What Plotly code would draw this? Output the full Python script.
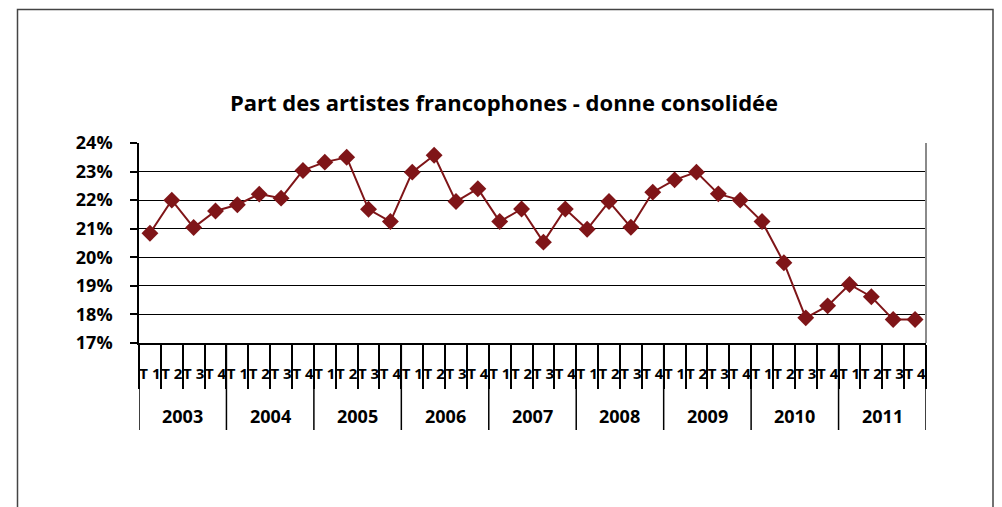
import plotly.graph_objects as go

years = ["2003", "2004", "2005", "2006", "2007", "2008", "2009", "2010", "2011"]
quarters = ["T 1", "T 2", "T 3", "T 4"]
values = [
    20.84, 22.00, 21.04, 21.62,
    21.84, 22.21, 22.07, 23.04,
    23.33, 23.50, 21.68, 21.25,
    22.98, 23.57, 21.95, 22.40,
    21.25, 21.69, 20.53, 21.69,
    20.98, 21.95, 21.05, 22.28,
    22.71, 22.98, 22.22, 22.00,
    21.25, 19.81, 17.88, 18.30,
    19.05, 18.62, 17.82, 17.82,
]
y_ticks = [17, 18, 19, 20, 21, 22, 23, 24]
y_labels = [f"{v}%" for v in y_ticks]
title_text = "Part des artistes francophones - donne consolidée"

n_q = len(quarters)
x_pos = list(range(len(values)))
x_inner = [q for _ in years for q in quarters]

color = "#7F1518"
font_family = "Open Sans, DejaVu Sans, sans-serif"

# page body has an 8px margin: work in figure coordinates
OFF = 8
W, H = 1002 - OFF, 507 - OFF
PL, PR, PT, PB = 139 - OFF, 926 - OFF, 143 - OFF, 343 - OFF
PH = PB - PT

fig = go.Figure()
fig.add_trace(go.Scatter(
    x=x_pos,
    y=values,
    mode="lines+markers",
    line=dict(color=color, width=2),
    marker=dict(symbol="diamond", size=13, color=color),
    showlegend=False,
    cliponaxis=False,
))

shapes = [dict(type="rect", xref="paper", yref="paper",
               x0=(17.5 - OFF - PL) / (PR - PL), x1=(993 - OFF - PL) / (PR - PL),
               y0=-(530 - OFF - PB) / PH, y1=(PB - (9.5 - OFF)) / PH,
               line=dict(color="#444444", width=1.5), layer="below")]
# plot area right border (gray)
shapes.append(dict(type="line", xref="paper", yref="paper", x0=1, x1=1, y0=0, y1=1,
                   line=dict(color="#8a8a8a", width=2)))
# year dividers
for k in range(len(years) + 1):
    xb = k * n_q - 0.5
    shapes.append(dict(type="line", xref="x", yref="paper", x0=xb, x1=xb,
                       y0=0, y1=-(430 - 343) / PH, line=dict(color="black", width=1.5)))

annotations = []
for k, yr in enumerate(years):
    annotations.append(dict(text=yr, xref="x", yref="paper",
                            x=k * n_q + (n_q - 1) / 2, y=-(416 - 343) / PH,
                            xanchor="center", yanchor="middle", showarrow=False,
                            font=dict(family=font_family, size=18, color="black", weight="bold")))

fig.update_layout(
    width=W, height=H,
    paper_bgcolor="white", plot_bgcolor="white",
    margin=dict(l=PL, r=W - PR, t=PT, b=H - PB),
    title=dict(text=title_text, x=(504 - OFF) / W, xanchor="center",
               y=1 - (103 - OFF) / H, yanchor="middle",
               font=dict(family=font_family, size=22, color="black", weight="bold")),
    font=dict(family=font_family, color="black"),
    shapes=shapes,
    annotations=annotations,
)

fig.update_xaxes(
    range=[-0.5, len(values) - 0.5], autorange=False,
    tickvals=x_pos, ticktext=x_inner, tickangle=0,
    showline=True, linecolor="black", linewidth=1.5,
    ticks="", ticklabelstandoff=16,
    minor=dict(tickvals=[i - 0.5 for i in range(len(values) + 1)], ticks="outside",
               ticklen=44, tickcolor="black", tickwidth=1.5, showgrid=False),
    tickfont=dict(family=font_family, size=15, color="black", weight="bold"),
    showgrid=False, zeroline=False, automargin=False,
)
fig.update_yaxes(
    range=[17, 24], autorange=False, tickvals=y_ticks, ticktext=y_labels,
    showgrid=True, gridcolor="black", gridwidth=1.3,
    showline=True, linecolor="black", linewidth=1.5,
    ticks="outside", ticklen=7, tickcolor="black", tickwidth=1.5,
    ticklabelstandoff=14,
    tickfont=dict(family=font_family, size=18, color="black", weight="bold"),
    zeroline=False, automargin=False,
)

fig.write_html("out.html")
